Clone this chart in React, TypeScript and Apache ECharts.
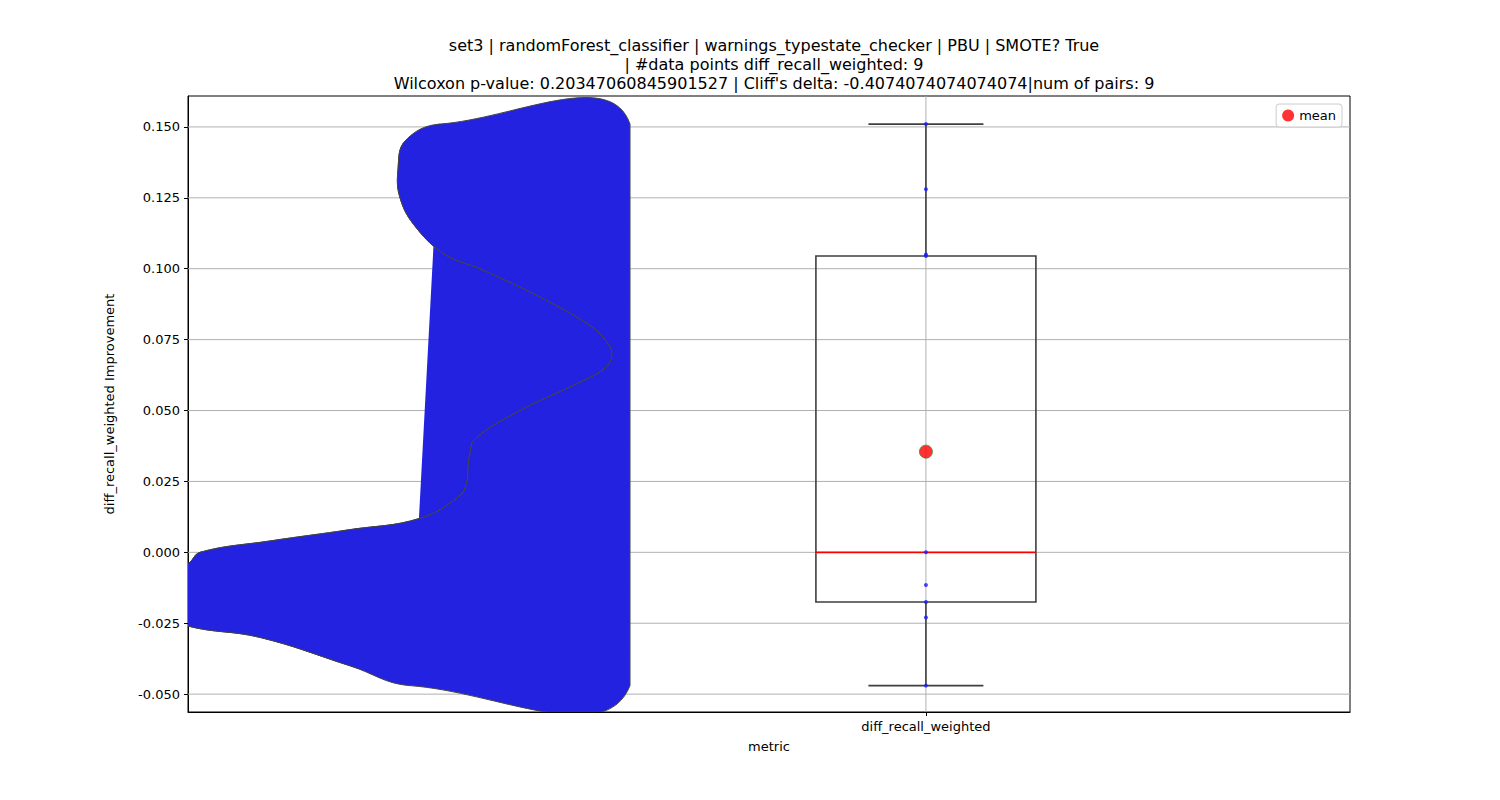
import React, { useEffect, useRef } from "react";
import * as echarts from "echarts";

const categories = ["diff_recall_weighted"];
const points = [0.151, 0.128, 0.105, 0.1045, 0.0, -0.0115, -0.0175, -0.023, -0.047];
const box = { low: -0.047, q1: -0.0175, median: 0.0, q3: 0.1045, high: 0.151 };
const meanValue = 0.0355;
const yTicks = [-0.05, -0.025, 0, 0.025, 0.05, 0.075, 0.1, 0.125, 0.15];
// violin outline: [y value, x pixel]
const violinY = [0.151, 0.145, 0.135, 0.125, 0.115, 0.105, 0.1, 0.09, 0.08, 0.075, 0.07, 0.065, 0.06, 0.05, 0.04, 0.035, 0.03, 0.025, 0.02, 0.012, 0.008, 0.004, 0.0, -0.004, -0.01, -0.02, -0.026, -0.03, -0.04, -0.047];
const violinPx = [440, 405, 398, 400, 415, 445, 480, 540, 590, 605, 612, 605, 580, 520, 475, 470, 468, 467, 460, 420, 350, 270, 200, 188, 150, 150, 188, 260, 350, 410];
const XMIN = -0.87, XMAX = 0.5;
const pxToX = (p: number) => (p - 188) / 1162 * (XMAX - XMIN) + XMIN;
const violinRight = pxToX(630);

export default function App() {
  const ref = useRef<HTMLDivElement>(null);
  useEffect(() => {
    const chart = echarts.init(ref.current!, undefined, { renderer: "svg" });
    const font = "DejaVu Sans";
    const outline = violinY.map((y, i) => [pxToX(violinPx[i]), y]);
    chart.setOption({
      animation: false,
      textStyle: { fontFamily: font },
      title: {
        text: "set3 | randomForest_classifier | warnings_typestate_checker | PBU | SMOTE? True\n| #data points diff_recall_weighted: 9\nWilcoxon p-value: 0.20347060845901527 | Cliff's delta: -0.4074074074074074|num of pairs: 9",
        left: 769, top: 31, textAlign: "center",
        textStyle: { fontSize: 16, fontWeight: "normal", color: "#000", lineHeight: 19, fontFamily: font },
      },
      legend: {
        right: 158, top: 104, itemWidth: 12, itemHeight: 12,
        backgroundColor: "#fff", borderColor: "#ccc", borderWidth: 1, borderRadius: 3, padding: [5, 6],
        textStyle: { fontSize: 13, color: "#000" },
        data: [{ name: "mean", icon: "circle", itemStyle: { color: "red", borderWidth: 0 } }],
      },
      grid: { left: 188, right: 150, top: 96, bottom: 88, show: true, borderColor: "#000", borderWidth: 1, backgroundColor: "transparent" },
      xAxis: {
        type: "value", min: XMIN, max: XMAX,
        name: "metric", nameLocation: "middle", nameGap: 28,
        nameTextStyle: { fontSize: 13, color: "#000" },
        axisLine: { show: true, onZero: false, lineStyle: { color: "#000" } },
        axisTick: { show: true, length: 4, customValues: [0], lineStyle: { color: "#000" } },
        splitLine: { show: false },
        axisLabel: { show: true, customValues: [0], fontSize: 13, color: "#000", margin: 8, formatter: () => categories[0] },
      },
      yAxis: {
        type: "value", min: -0.0563, max: 0.1609,
        name: "diff_recall_weighted Improvement", nameLocation: "middle", nameGap: 72,
        nameTextStyle: { fontSize: 13, color: "#000" },
        axisLine: { show: true, onZero: false, lineStyle: { color: "#000" } },
        axisTick: { show: true, length: 4, customValues: yTicks, lineStyle: { color: "#000" } },
        axisLabel: { fontSize: 13, color: "#000", formatter: (v: number) => v.toFixed(3), customValues: yTicks },
        splitLine: { show: false },
      },
      series: [
        {
          type: "custom", clip: true, silent: true, z: 1,
          data: [0],
          renderItem: (params: any, api: any) => {
            const lines: any[] = yTicks.map((v) => {
              const a = api.coord([XMIN, v]); const b = api.coord([XMAX, v]);
              return { type: "line", shape: { x1: a[0], y1: a[1], x2: b[0], y2: b[1] }, style: { stroke: "#b0b0b0", lineWidth: 1 } };
            });
            const t = api.coord([0, 0.1609]); const bt = api.coord([0, -0.0563]);
            lines.push({ type: "line", shape: { x1: t[0], y1: t[1], x2: bt[0], y2: bt[1] }, style: { stroke: "#b0b0b0", lineWidth: 1 } });
            return { type: "group", children: lines };
          },
        },
        {
          type: "custom", clip: true, silent: true, z: 2,
          data: [0],
          renderItem: (params: any, api: any) => {
            const curve = outline.map((p) => api.coord(p));
            const last = violinY[violinY.length - 1], first = violinY[0];
            const right = [last, -0.046, -0.02, 0.05, 0.12, 0.15, first].map((y) => api.coord([violinRight, y]));
            return {
              type: "group",
              children: [
                { type: "polyline", shape: { points: curve, smooth: 0.4 }, style: { fill: "#2222e0", stroke: "#444", lineWidth: 1 } },
                { type: "polygon", shape: { points: [...curve.map((p: number[]) => p), ...right] }, style: { fill: "#2222e0", stroke: "none" }, invisible: true },
              ],
            };
          },
        },
        {
          type: "custom", clip: true, silent: true, z: 2,
          data: [0],
          renderItem: (params: any, api: any) => {
            const curve = outline.map((p) => api.coord(p));
            const rb = api.coord([violinRight, violinY[violinY.length - 1]]);
            const rt = api.coord([violinRight, violinY[0]]);
            const pts = [...curve, rb, rt];
            return {
              type: "group",
              children: [
                { type: "polygon", shape: { points: pts, smooth: 0.4, smoothConstraint: [[rt[0] - 2000, -1000], [rt[0], 3000]] }, style: { fill: "#2222e0", stroke: "#444", lineWidth: 1 } },
              ],
            };
          },
        },
        {
          type: "custom", silent: true, z: 3,
          data: [0],
          renderItem: (params: any, api: any) => {
            const bx = (v: number) => api.coord([0, v]);
            const hw = 110 / 1162 * (XMAX - XMIN), cw = 57.5 / 1162 * (XMAX - XMIN);
            const c = (x: number, y: number) => api.coord([x, y]);
            const st = { stroke: "#3f3f3f", lineWidth: 1.6, fill: "none" };
            const q1 = c(-hw, box.q1), q3 = c(hw, box.q3);
            const items: any[] = [
              { type: "rect", shape: { x: q1[0], y: q3[1], width: q3[0] - q1[0], height: q1[1] - q3[1] }, style: { ...st, fill: "rgba(0,0,0,0)" } },
              { type: "line", shape: { x1: bx(box.q3)[0], y1: bx(box.q3)[1], x2: bx(box.high)[0], y2: bx(box.high)[1] }, style: st },
              { type: "line", shape: { x1: bx(box.q1)[0], y1: bx(box.q1)[1], x2: bx(box.low)[0], y2: bx(box.low)[1] }, style: st },
              { type: "line", shape: { x1: c(-cw, box.high)[0], y1: c(-cw, box.high)[1], x2: c(cw, box.high)[0], y2: c(cw, box.high)[1] }, style: st },
              { type: "line", shape: { x1: c(-cw, box.low)[0], y1: c(-cw, box.low)[1], x2: c(cw, box.low)[0], y2: c(cw, box.low)[1] }, style: st },
              { type: "line", shape: { x1: c(-hw, box.median)[0], y1: c(-hw, box.median)[1], x2: c(hw, box.median)[0], y2: c(hw, box.median)[1] }, style: { stroke: "red", lineWidth: 1.6 } },
            ];
            return { type: "group", children: items };
          },
        },
        {
          type: "scatter", z: 4, symbolSize: 4, silent: true,
          itemStyle: { color: "#1a1aff" },
          data: points.map((p) => [0, p]),
        },
        {
          name: "mean", type: "scatter", z: 5, symbolSize: 13, silent: true,
          itemStyle: { color: "red", borderColor: "#3a8a3a", borderWidth: 1 },
          data: [[0, meanValue]],
        },
      ],
    });
    return () => chart.dispose();
  }, []);
  return <div ref={ref} style={{ width: 1500, height: 800, margin: -8 }} />;
}
